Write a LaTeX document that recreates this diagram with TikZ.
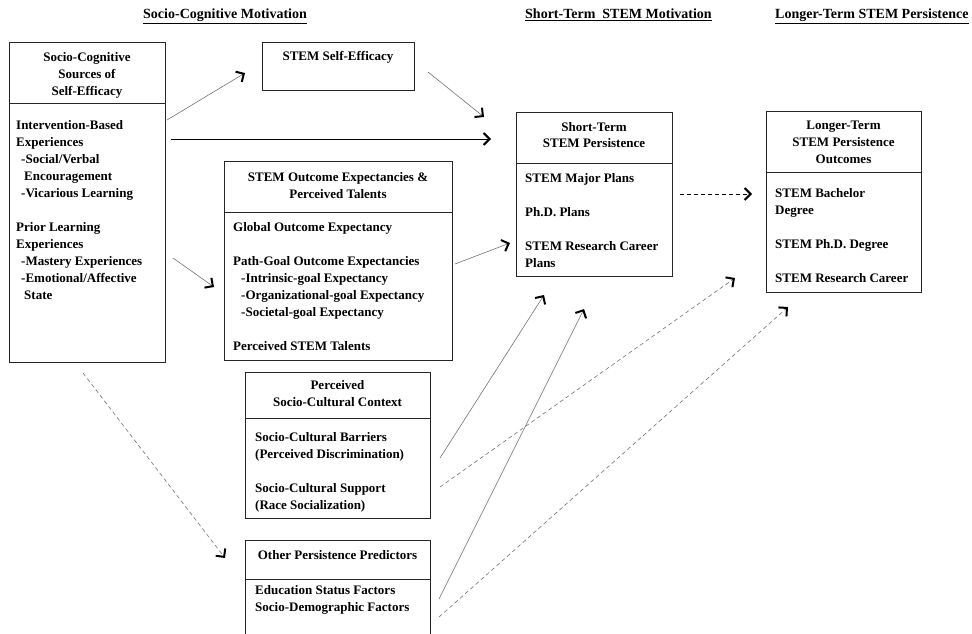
\documentclass[tikz,border=0pt]{standalone}
\usepackage{fontspec}
\setmainfont{Liberation Serif}
\usetikzlibrary{arrows.meta}
\newcommand\lblk[1]{\begin{tabular}[t]{@{}l@{}}#1\end{tabular}}
\newcommand\cblk[1]{\begin{tabular}[t]{@{}c@{}}#1\end{tabular}}
\begin{document}
\begin{tikzpicture}[x=1pt,y=-1pt,
  box/.style={draw=black!85, line width=0.8pt},
  shape box/.style={box, anchor=north west, inner sep=0pt},
  body/.style={inner sep=0pt, anchor=base west, font=\fontsize{13}{17}\selectfont\bfseries},
  ttl/.style={inner sep=0pt, anchor=base, font=\fontsize{13}{17}\selectfont\bfseries},
  hdr/.style={inner sep=0pt, anchor=base west, font=\fontsize{14}{17}\selectfont\bfseries},
  tip/.style={-{Straight Barb[length=6pt,width=12pt,line width=2pt,color=black]}},
  conn/.style={tip, draw=black!55, line width=0.6pt},
  dconn/.style={conn, dash pattern=on 4pt off 3pt}]
\useasboundingbox[fill=white] (0,0) rectangle (972,634);

% headers
\node[hdr] (h1) at (143,18.5) {\underline{Socio-Cognitive Motivation}};
\node[hdr] (h2) at (525,18.5) {\underline{Short-Term\ \ STEM Motivation}};
\node[hdr] (h3) at (775,18.5) {\underline{Longer-Term STEM Persistence}};

% box 1
\node[shape box, minimum width=156pt, minimum height=320pt] (b1) at (9,42) {};
\draw[box] (b1.west |- 0,103) -- (b1.east |- 0,103);
\node[ttl] (t1) at (87,62) {\cblk{Socio-Cognitive\\Sources of\\Self-Efficacy}};
\node[body] (x1) at (16,129) {\lblk{Intervention-Based\\Experiences\\\hspace{5pt}-Social/Verbal\\\hspace{8pt}Encouragement\\\hspace{5pt}-Vicarious Learning\\ \\Prior Learning\\Experiences\\\hspace{5pt}-Mastery Experiences\\\hspace{5pt}-Emotional/Affective\\\hspace{8pt}State}};

% box 2
\node[shape box, minimum width=152pt, minimum height=48pt] (b2) at (262,42) {};
\node[ttl] (t2) at (338,61) {STEM Self-Efficacy};

% box 3
\node[shape box, minimum width=228pt, minimum height=199pt] (b3) at (224,161) {};
\draw[box] (b3.west |- 0,212) -- (b3.east |- 0,212);
\node[ttl] (t3) at (338,181) {\cblk{STEM Outcome Expectancies \&\\Perceived Talents}};
\node[body] (x3) at (233,231) {\lblk{Global Outcome Expectancy\\ \\Path-Goal Outcome Expectancies\\\hspace{8pt}-Intrinsic-goal Expectancy\\\hspace{8pt}-Organizational-goal Expectancy\\\hspace{8pt}-Societal-goal Expectancy\\ \\Perceived STEM Talents}};

% box 4
\node[shape box, minimum width=185pt, minimum height=146pt] (b4) at (245,372) {};
\draw[box] (b4.west |- 0,418) -- (b4.east |- 0,418);
\node[ttl] (t4) at (337.5,389) {\cblk{Perceived\\Socio-Cultural Context}};
\node[body] (x4) at (255,441) {\lblk{Socio-Cultural Barriers\\(Perceived Discrimination)\\ \\Socio-Cultural Support\\(Race Socialization)}};

% box 5 (open at the bottom)
\node[anchor=north west, inner sep=0pt, minimum width=185pt, minimum height=94pt] (b5) at (245,540) {};
\draw[box] (b5.south west) |- (b5.north east) -- (b5.south east);
\draw[box] (b5.west |- 0,579) -- (b5.east |- 0,579);
\node[ttl] (t5) at (337.5,559) {Other Persistence Predictors};
\node[body] (x5) at (255,594) {\lblk{Education Status Factors\\Socio-Demographic Factors}};

% box 6
\node[shape box, minimum width=156pt, minimum height=164pt] (b6) at (516,112) {};
\draw[box] (b6.west |- 0,163) -- (b6.east |- 0,163);
\node[ttl] (t6) at (594,131) {\cblk{Short-Term\\STEM Persistence}};
\node[body] (x6) at (525,182) {\lblk{STEM Major Plans\\ \\Ph.D. Plans\\ \\STEM Research Career\\Plans}};

% box 7
\node[shape box, minimum width=155pt, minimum height=181pt] (b7) at (766,111) {};
\draw[box] (b7.west |- 0,172) -- (b7.east |- 0,172);
\node[ttl] (t7) at (843.5,129) {\cblk{Longer-Term\\STEM Persistence\\Outcomes}};
\node[body] (x7) at (775,197) {\lblk{STEM Bachelor\\Degree\\ \\STEM Ph.D. Degree\\ \\STEM Research Career}};

% connector end points
\coordinate (a1s) at (167,120);  \coordinate (a1e) at (245,73);
\coordinate (a2s) at (428,72);   \coordinate (a2e) at (484,117);
\coordinate (a3s) at (171,139);  \coordinate (a3e) at (491,139);
\coordinate (a4s) at (173,258);  \coordinate (a4e) at (214,287);
\coordinate (a5s) at (455,264);  \coordinate (a5e) at (510,243);
\coordinate (a6s) at (680,194);  \coordinate (a6e) at (752,194);
\coordinate (a7s) at (440,458);  \coordinate (a7e) at (544,295);
\coordinate (a8s) at (439,599);  \coordinate (a8e) at (584,309);
\coordinate (a9s) at (440,487);  \coordinate (a9e) at (735,278);
\coordinate (a10s) at (439,617); \coordinate (a10e) at (788,307);
\coordinate (a11s) at (83,373);  \coordinate (a11e) at (225,558);

\draw[conn] (a1s) -- (a1e);
\draw[conn] (a2s) -- (a2e);
\draw[conn, draw=black, line width=0.8pt] (a3s) -- (a3e);
\draw[conn] (a4s) -- (a4e);
\draw[conn] (a5s) -- (a5e);
\draw[dconn, draw=black] (a6s) -- (a6e);
\draw[conn] (a7s) -- (a7e);
\draw[conn] (a8s) -- (a8e);
\draw[dconn] (a9s) -- (a9e);
\draw[dconn] (a10s) -- (a10e);
\draw[dconn] (a11s) -- (a11e);
\end{tikzpicture}
\end{document}
